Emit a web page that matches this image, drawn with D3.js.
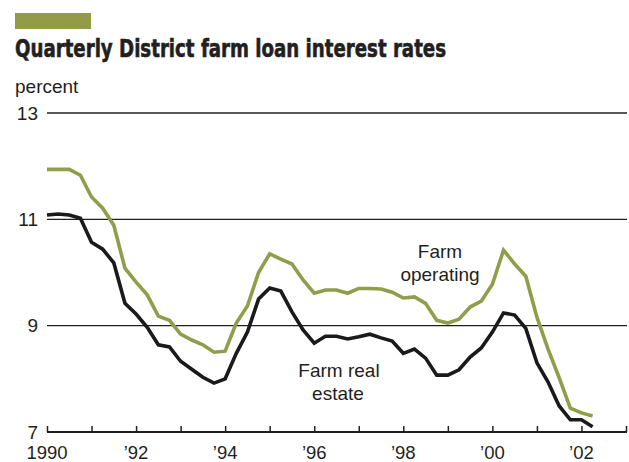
<!DOCTYPE html>
<html>
<head>
<meta charset="utf-8">
<script src="https://cdn.jsdelivr.net/npm/d3@7"></script>
<style>
  body { margin: 0; background: #fff; }
  svg text { font-family: "Liberation Sans", Arial, sans-serif; fill: #231f20; }
</style>
</head>
<body>
<div id="chart"></div>
<script>
// quarterly rates, 1990 Q1 .. 2002 Q2
const startYear = 1990;
const farmOperating = [
  11.94, 11.94, 11.94, 11.83, 11.42, 11.21, 10.89, 10.08,
  9.82, 9.58, 9.18, 9.10, 8.84, 8.73, 8.64, 8.50,
  8.52, 9.05, 9.37, 10.00, 10.35, 10.25, 10.16, 9.86,
  9.61, 9.67, 9.67, 9.61, 9.70, 9.70, 9.69, 9.63,
  9.52, 9.54, 9.42, 9.10, 9.05, 9.12, 9.35, 9.46,
  9.78, 10.42, 10.16, 9.93, 9.16, 8.56, 8.02, 7.45,
  7.36, 7.30
];
const farmRealEstate = [
  11.08, 11.10, 11.08, 11.02, 10.57, 10.44, 10.18, 9.42,
  9.22, 8.97, 8.64, 8.60, 8.33, 8.18, 8.03, 7.92,
  8.00, 8.48, 8.88, 9.50, 9.71, 9.65, 9.26, 8.92,
  8.67, 8.80, 8.80, 8.75, 8.79, 8.84, 8.77, 8.71,
  8.48, 8.56, 8.39, 8.07, 8.07, 8.17, 8.41, 8.58,
  8.88, 9.24, 9.20, 8.95, 8.30, 7.94, 7.49, 7.23,
  7.23, 7.10
];
const yTicks = [7, 9, 11, 13];
const xLabels = ["1990", "\u201992", "\u201994", "\u201996", "\u201998", "\u201900", "\u201902"];

const W = 629, H = 462;

const svg = d3.select("#chart").append("svg")
  .attr("width", W).attr("height", H);

const x = d3.scaleLinear().domain([1990, 2003]).range([47, 626]);
const y = d3.scaleLinear().domain([7, 13]).range([432, 113]);

// green bar + title
svg.append("rect").attr("x", 15).attr("y", 13).attr("width", 76).attr("height", 16)
  .attr("fill", "#939b4b");
svg.append("text").attr("x", 15).attr("y", 57)
  .attr("font-size", 25.5).attr("font-weight", "bold")
  .style("font-family", "'DejaVu Sans Condensed', 'Liberation Sans Narrow', sans-serif")
  .style("font-stretch", "condensed")
  .attr("stroke", "#231f20").attr("stroke-width", 0.6)
  .attr("textLength", 431).attr("lengthAdjust", "spacingAndGlyphs")
  .text("Quarterly District farm loan interest rates");

svg.append("text").attr("x", 15).attr("y", 93).attr("font-size", 19).text("percent");

// gridlines
svg.append("g").selectAll("line").data(yTicks.filter(d => d !== 7)).join("line")
  .attr("x1", 47).attr("x2", 627)
  .attr("y1", d => y(d)).attr("y2", d => y(d))
  .attr("stroke", "#231f20").attr("stroke-width", 1.4);

svg.append("g").selectAll("text").data(yTicks).join("text")
  .attr("x", 38).attr("y", d => y(d) + 6.5)
  .attr("text-anchor", "end").attr("font-size", 19)
  .text(d => d);

// x axis
const xAxis = d3.axisBottom(x)
  .tickValues(d3.range(1990, 2004))
  .tickSize(-6).tickSizeOuter(0)
  .tickFormat("");
const gx = svg.append("g").attr("transform", `translate(0,${y(7)})`).call(xAxis);
gx.select(".domain").attr("stroke", "#231f20").attr("stroke-width", 2)
  .attr("d", `M47,0H627`);
gx.selectAll(".tick line").attr("stroke", "#231f20").attr("stroke-width", 1.5);

svg.append("g").selectAll("text").data(xLabels).join("text")
  .attr("x", (d, i) => x(1990 + i * 2))
  .attr("y", 459).attr("text-anchor", "middle").attr("font-size", 18.5)
  .text(d => d);

// lines
const line = d3.line()
  .x((d, i) => x(startYear + i * 0.25))
  .y(d => y(d));

svg.append("path").datum(farmOperating)
  .attr("d", line).attr("fill", "none")
  .attr("stroke", "#8f9e4b").attr("stroke-width", 3.6)
  .attr("stroke-linejoin", "miter");

svg.append("path").datum(farmRealEstate)
  .attr("d", line).attr("fill", "none")
  .attr("stroke", "#1a1a1a").attr("stroke-width", 3.6)
  .attr("stroke-linejoin", "miter");

// labels
const lab = svg.append("g").attr("font-size", 19).attr("text-anchor", "middle");
lab.append("text").attr("x", 440).attr("y", 258).text("Farm");
lab.append("text").attr("x", 440).attr("y", 281).text("operating");
lab.append("text").attr("x", 339).attr("y", 377).text("Farm real");
lab.append("text").attr("x", 338).attr("y", 400).text("estate");
</script>
</body>
</html>
